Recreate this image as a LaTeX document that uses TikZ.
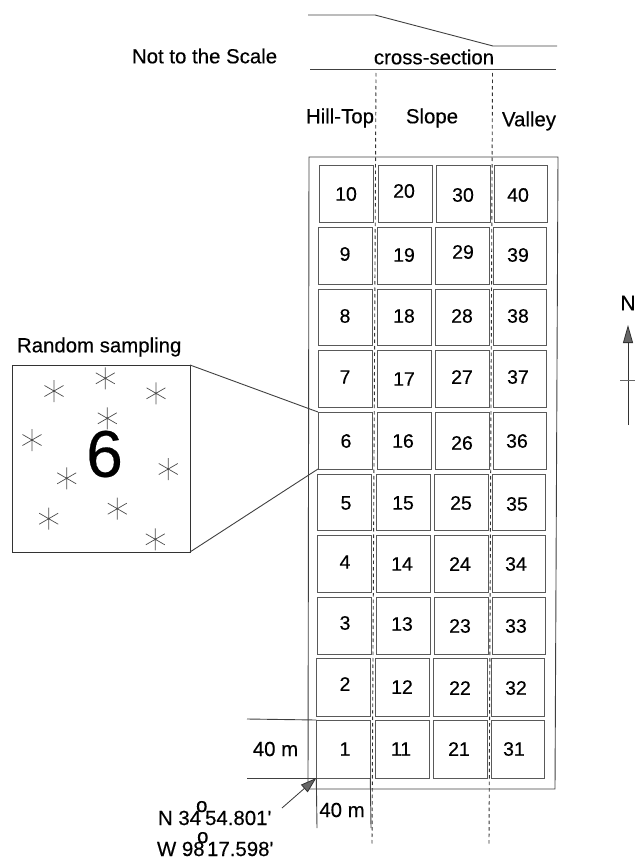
\documentclass[tikz,border=0pt]{standalone}
\usepackage{fontspec}
\setmainfont{Liberation Sans}
\newfontfamily\darkfont[FakeBold=0.35]{Liberation Sans}
\usetikzlibrary{arrows.meta}
\tikzset{
  ink/.style={draw=black!75,line width=0.9pt},
  cellbox/.style={rectangle,draw=black!65,line width=1pt,inner sep=0pt,outer sep=0pt},
  txt/.style={inner sep=0pt,outer sep=0pt,text=black,font=\darkfont\fontsize{20.4}{24}\selectfont},
  num/.style={inner sep=0pt,outer sep=0pt,text=black,font=\darkfont\fontsize{19.5}{23}\selectfont},
  divider/.style={draw=black!80,line width=0.9pt,dash pattern=on 3.5pt off 3pt},
  pointer/.style={draw=black!80,line width=0.8pt,-{Triangle[length=16pt,width=10pt,fill=black!60]}},
}
\begin{document}
\begin{tikzpicture}[x=1pt,y=-1pt]
\useasboundingbox (0,0) rectangle (635,859);
% cross-section
\coordinate (p1) at (308,15);
\coordinate (p2) at (375,15);
\coordinate (p3) at (493,46);
\coordinate (p4) at (557,46);
\coordinate (b1) at (310,69);
\coordinate (b2) at (556,69);
\draw[ink] (p1) -- (p2) -- (p3) -- (p4);
\draw[ink] (b1) -- (b2);
\node[txt,anchor=west] (scale) at (132,56) {Not to the Scale};
\node[txt] (xsec) at (434,57) {cross-section};
\node[txt] (hill) at (340,118) {Hill-Top};
\node[txt] (slope) at (432,118) {Slope};
\node[txt] (valley) at (529,121) {Valley};
% outer rectangle
\coordinate (o1) at (309,157);
\coordinate (o2) at (558,157);
\coordinate (o3) at (555,789);
\coordinate (o4) at (308,789);
\draw[ink] (o1) -- (o2) -- (o3) -- (o4) -- cycle;
% cells
\foreach \ci/\xa/\xb in {0/319/373,1/378/432,2/436/490,3/494/547}
 \foreach \ri/\ya/\yb/\sh in {10/165/222/0,9/227/284/0.2,8/289/345/0.5,7/350/407/0.8,6/412/469/1,5/474/530/1.5,4/535/592/1.8,3/597/654/2,2/658/716/2.3,1/720/778/2.7}{
  \pgfmathtruncatemacro\n{\ci*10+\ri}
  \node[cellbox,minimum width=\xb pt-\xa pt,minimum height=\yb pt-\ya pt] (c\n) at ({(\xa+\xb)/2-\sh},{(\ya+\yb)/2}) {};
 }
% cell numbers
\foreach \n/\lx/\ly in {10/346/194,9/345/254,8/345/316,7/345/377,6/346/441,5/346/503,4/345/562,3/345/623,2/345/684,1/345/749,
 20/404/191,19/404/255,18/404/316,17/404/379,16/403/441,15/403/503,14/402/564,13/402/624,12/402/687,11/401/749,
 30/463/195,29/463/252,28/462/316,27/462/377,26/462/443,25/461/503,24/460/564,23/460/626,22/460/688,21/459/749,
 40/518/195,39/518/255,38/518/316,37/518/377,36/517/441,35/517/504,34/516/564,33/516/626,32/516/688,31/514/749}
  \node[num] (t\n) at (\lx,\ly) {\n};
% dividers
\coordinate (d1a) at (376,73);
\coordinate (d1b) at (372,845);
\coordinate (d2a) at (492.5,73);
\coordinate (d2b) at (489,845);
\draw[divider] (d1a) -- (d1b);
\draw[divider] (d2a) -- (d2b);
% inset
\node[rectangle,draw=black!80,line width=1pt,minimum width=178pt,minimum height=187pt,inner sep=0pt,outer sep=0pt] (inset) at (101,458.5) {};
\node[inner sep=0pt,text=black,font=\darkfont\fontsize{66}{70}\selectfont] (big) at (104.5,454) {6};
\node[txt,anchor=west] (rs) at (17,347) {Random sampling};
\draw[ink] (inset.north east) -- (c6.north west);
\draw[ink] (inset.south east) -- (c6.south west);
\foreach \sx/\sy in {54/391,105.3/378.3,156/393.3,107.3/418.3,32/440,66.7/478.3,168.3/469,117.3/508.7,48.7/518.7,155.3/539.3}{
  \draw[draw=black!70,line width=0.7pt]
    (\sx,\sy-11) -- (\sx,\sy+11)
    (\sx-9.5,\sy-5.5) -- (\sx+9.5,\sy+5.5)
    (\sx-9.5,\sy+5.5) -- (\sx+9.5,\sy-5.5);
}
% dimensions
\coordinate (h1) at (247,719);
\coordinate (h2) at (247,778);
\coordinate (v1) at (317,828);
\coordinate (v2) at (371,828);
\draw[ink] (h1) -- (c1.north west);
\draw[ink] (h2) -- (c1.south west);
\draw[ink] (c1.south west) -- (v1);
\draw[ink] (c1.south east) -- (v2);
\node[txt] (w40) at (275.5,749) {40 m};
\node[txt] (s40) at (342,810) {40 m};
% location
\coordinate (arrowstart) at (282,808);
\draw[pointer] (arrowstart) -- (c1.south west);
\node[txt,anchor=base west] (lat) at (158,825) {N 34\kern-5pt\rlap{\raisebox{13pt}{o}}\kern 9pt 54.801'};
\node[txt,anchor=base west] (lon) at (157,856) {W 98\kern-7.5pt\rlap{\raisebox{13pt}{o}}\kern 10pt 17.598'};
% north arrow
\node[txt,font=\darkfont\fontsize{21}{24}\selectfont] (north) at (628,303) {N};
\coordinate (na) at (628,425);
\coordinate (nb) at (628,325);
\coordinate (nc) at (620,380);
\coordinate (nd) at (635,380);
\draw[draw=black!80,line width=0.8pt,-{Triangle[length=18pt,width=10pt,fill=black!60]}] (na) -- (nb);
\draw[draw=black!60,line width=0.7pt] (nc) -- (nd);
\end{tikzpicture}
\end{document}
